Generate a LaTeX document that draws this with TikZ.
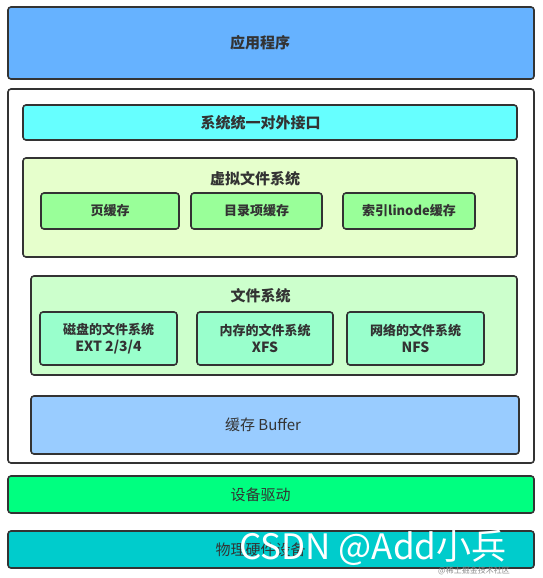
\documentclass[tikz,border=0pt]{standalone}
\usepackage{fontspec}
\setmainfont{Noto Sans CJK SC}
\definecolor{appblue}{HTML}{66B2FF}
\definecolor{ifcyan}{HTML}{66FFFF}
\definecolor{vfsbg}{HTML}{E6FFCC}
\definecolor{cachegreen}{HTML}{99FF99}
\definecolor{fsbg}{HTML}{CCFFCC}
\definecolor{fsmint}{HTML}{99FFCC}
\definecolor{bufblue}{HTML}{99CCFF}
\definecolor{drvgreen}{HTML}{00FF80}
\definecolor{hwteal}{HTML}{00CCCC}
\definecolor{edge}{HTML}{333333}
\definecolor{txt}{HTML}{333333}
\tikzset{
  box/.style={draw=edge, line width=1.6pt, rounded corners=3pt, inner sep=0pt, outer sep=0pt, text=txt, align=center},
  lbl/.style={text=txt, inner sep=0pt},
  title/.style={text=txt, inner sep=0pt, font=\bfseries\fontsize{15}{18}\selectfont}
}
\begin{document}
\begin{tikzpicture}[x=1pt,y=-1pt]
\useasboundingbox[fill=white] (0,0) rectangle (543,578);
% application
\node[box, fill=appblue, minimum width=526pt, minimum height=72pt] (app) at (271,43) {};
\node[title] (appt) at (260,43) {应用程序};
% outer kernel frame
\node[box, fill=white, minimum width=526pt, minimum height=374pt] (kernel) at (271,276) {};
% interface
\node[box, fill=ifcyan, minimum width=494pt, minimum height=35pt] (iface) at (270,122.5) {};
\node[title] (ifacet) at (260.5,122.5) {系统统一对外接口};
% VFS
\node[box, fill=vfsbg, minimum width=494pt, minimum height=99pt] (vfs) at (270,207.5) {};
\node[title] (vfst) at (255,179) {虚拟文件系统};
\node[box, fill=cachegreen, minimum width=138pt, minimum height=36pt, font=\bfseries\fontsize{13}{16}\selectfont] (page) at (110,211) {页缓存};
\node[box, fill=cachegreen, minimum width=131pt, minimum height=36pt, font=\bfseries\fontsize{13}{16}\selectfont] (dentry) at (256.5,211) {目录项缓存};
\node[box, fill=cachegreen, minimum width=132pt, minimum height=36pt, font=\bfseries\fontsize{13}{16}\selectfont] (inode) at (409,211) {索引linode缓存};
% file systems
\node[box, fill=fsbg, minimum width=486pt, minimum height=99pt] (fs) at (274,325.5) {};
\node[title] (fst) at (260.5,296) {文件系统};
\node[box, fill=fsmint, minimum width=137pt, minimum height=53pt, font=\bfseries\fontsize{13}{17}\selectfont] (disk) at (108.5,338.5) {磁盘的文件系统\\{\fontsize{14}{17}\selectfont EXT 2/3/4}};
\node[box, fill=fsmint, minimum width=136pt, minimum height=53pt, font=\bfseries\fontsize{13}{17}\selectfont] (mem) at (265,338.5) {内存的文件系统\\{\fontsize{14}{17}\selectfont XFS}};
\node[box, fill=fsmint, minimum width=137pt, minimum height=53pt, font=\bfseries\fontsize{13}{17}\selectfont] (net) at (415.5,338.5) {网络的文件系统\\{\fontsize{14}{17}\selectfont NFS}};
% buffer
\node[box, fill=bufblue, minimum width=488pt, minimum height=58pt] (buf) at (275,425) {};
\node[lbl, font=\fontsize{15}{18}\selectfont] (buft) at (263,425) {缓存 Buffer};
% driver
\node[box, fill=drvgreen, minimum width=526pt, minimum height=37pt] (drv) at (271,494.5) {};
\node[lbl, font=\fontsize{15}{18}\selectfont] (drvt) at (260.5,494.5) {设备驱动};
% hardware
\node[box, fill=hwteal, minimum width=526pt, minimum height=37pt] (hw) at (271,549.5) {};
\node[lbl, font=\fontsize{15}{18}\selectfont] (hwt) at (260.5,549.5) {物理硬件设备};
% watermarks
\node[text=white, inner sep=0pt, font=\fontsize{35}{40}\selectfont] (wm) at (373,548) {CSDN @Add小兵};
\node[text=black!45, inner sep=0pt, font=\fontsize{8}{9}\selectfont] (wm2) at (474,571) {@稀土掘金技术社区};
\end{tikzpicture}
\end{document}
